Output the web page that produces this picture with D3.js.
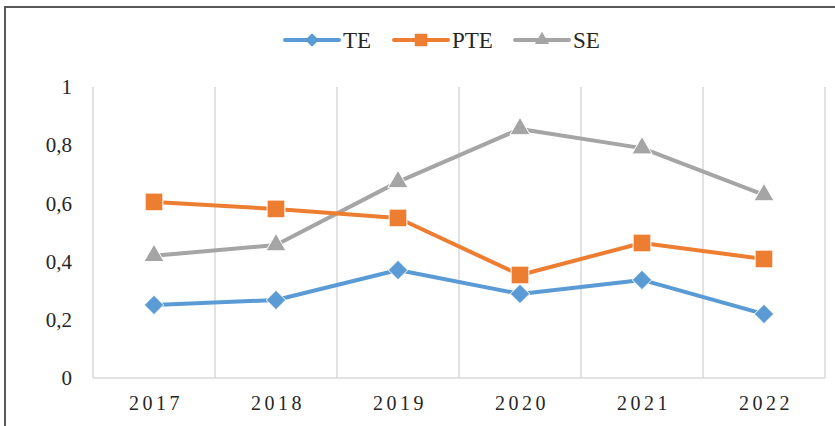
<!DOCTYPE html>
<html>
<head>
<meta charset="utf-8">
<script src="https://cdn.jsdelivr.net/npm/d3@7"></script>
<style>
  body { margin: 0; background: #fff; }
  text { font-family: "Liberation Serif", "Times New Roman", serif; fill: #262626; }
</style>
</head>
<body>
<div id="chart"></div>
<script>
var years = ["2017", "2018", "2019", "2020", "2021", "2022"];
var teValues = [0.251, 0.268, 0.371, 0.289, 0.337, 0.220];
var pteValues = [0.605, 0.581, 0.550, 0.354, 0.464, 0.409];
var seValues = [0.420, 0.457, 0.674, 0.856, 0.790, 0.629];
var yTicks = [0, 0.2, 0.4, 0.6, 0.8, 1];
var seriesNames = ["TE", "PTE", "SE"];

drawChart(835, 426);

function drawChart(w, h) {
  var svg = d3.select("#chart").append("svg")
      .attr("width", w)
      .attr("height", h);

  // outer chart border (runs off the right and bottom of the crop)
  svg.append("rect")
      .attr("x", 5).attr("y", 7)
      .attr("width", w + 20).attr("height", h + 20)
      .attr("fill", "#fff")
      .attr("stroke", "#595959")
      .attr("stroke-width", 2);

  var plot = {left: 93, right: 825, top: 87, bottom: 378};

  var x = d3.scaleBand()
      .domain(years)
      .range([plot.left, plot.right])
      .padding(0);

  var y = d3.scaleLinear()
      .domain([0, 1])
      .range([plot.bottom, plot.top]);

  var colors = {TE: "#5b9bd5", PTE: "#ed7d31", SE: "#a5a5a5"};
  var shapes = {TE: d3.symbolDiamond2, PTE: d3.symbolSquare2, SE: d3.symbolTriangle2};
  var shapeSize = {TE: 240, PTE: 400, SE: 290};

  // vertical gridlines between categories
  var bounds = years.map(function(d) { return x(d); }).concat([plot.right]);
  svg.append("g")
    .selectAll("line")
    .data(bounds)
    .enter().append("line")
      .attr("x1", function(d) { return d; })
      .attr("x2", function(d) { return d; })
      .attr("y1", plot.top)
      .attr("y2", plot.bottom)
      .attr("stroke", "#d9d9d9")
      .attr("stroke-width", 1.5);

  // bottom axis line
  svg.append("line")
      .attr("x1", plot.left).attr("x2", plot.right)
      .attr("y1", plot.bottom).attr("y2", plot.bottom)
      .attr("stroke", "#d9d9d9")
      .attr("stroke-width", 1.5);

  // y axis labels
  var yAxis = svg.append("g")
      .attr("transform", "translate(" + plot.left + ",0)")
      .call(d3.axisLeft(y).tickValues(yTicks).tickSize(0).tickPadding(21)
        .tickFormat(function(d) { return String(d).replace(".", ","); }));
  yAxis.select(".domain").remove();
  yAxis.selectAll("text")
      .attr("font-family", "Liberation Serif")
      .attr("font-size", 21)
      .attr("fill", "#262626");

  // x axis labels
  var xAxis = svg.append("g")
      .attr("transform", "translate(0," + plot.bottom + ")")
      .call(d3.axisBottom(x).tickSize(0).tickPadding(18));
  xAxis.select(".domain").remove();
  xAxis.selectAll("text")
      .attr("font-family", "Liberation Serif")
      .attr("font-size", 20)
      .attr("letter-spacing", "3.5px")
      .attr("dx", "2px")
      .attr("fill", "#262626");

  var data = {TE: teValues, PTE: pteValues, SE: seValues};
  var line = d3.line()
      .x(function(d, i) { return x(years[i]) + x.bandwidth() / 2; })
      .y(function(d) { return y(d); });

  // draw SE first so the others sit on top like the original
  ["SE", "PTE", "TE"].forEach(function(key) {
    var g = svg.append("g");
    g.append("path")
        .datum(data[key])
        .attr("d", line)
        .attr("fill", "none")
        .attr("stroke", colors[key])
        .attr("stroke-width", 4)
        .attr("stroke-linejoin", "round");
    g.selectAll("path.marker")
        .data(data[key])
        .enter().append("path")
          .attr("class", "marker")
          .attr("transform", function(d, i) {
            return "translate(" + (x(years[i]) + x.bandwidth() / 2) + "," + y(d) + ")";
          })
          .attr("d", d3.symbol().type(shapes[key]).size(shapeSize[key]))
          .attr("fill", colors[key])
          .attr("stroke", "#fff")
          .attr("stroke-width", 1);
  });

  // legend
  var legendX = [285, 394, 515];
  var legend = svg.append("g")
      .attr("transform", "translate(0,40)")
      .selectAll("g")
      .data(seriesNames)
      .enter().append("g")
        .attr("transform", function(d, i) { return "translate(" + legendX[i] + ",0)"; });

  legend.append("line")
      .attr("x1", 0).attr("x2", 54)
      .attr("stroke", function(d) { return colors[d]; })
      .attr("stroke-width", 4)
      .attr("stroke-linecap", "round");
  legend.append("path")
      .attr("transform", "translate(27,0)")
      .attr("d", function(d) { return d3.symbol().type(shapes[d]).size(shapeSize[d] * 0.5)(); })
      .attr("fill", function(d) { return colors[d]; });
  legend.append("text")
      .attr("x", 58)
      .attr("dy", "0.35em")
      .attr("font-size", 23)
      .text(function(d) { return d; });
}
</script>
</body>
</html>
